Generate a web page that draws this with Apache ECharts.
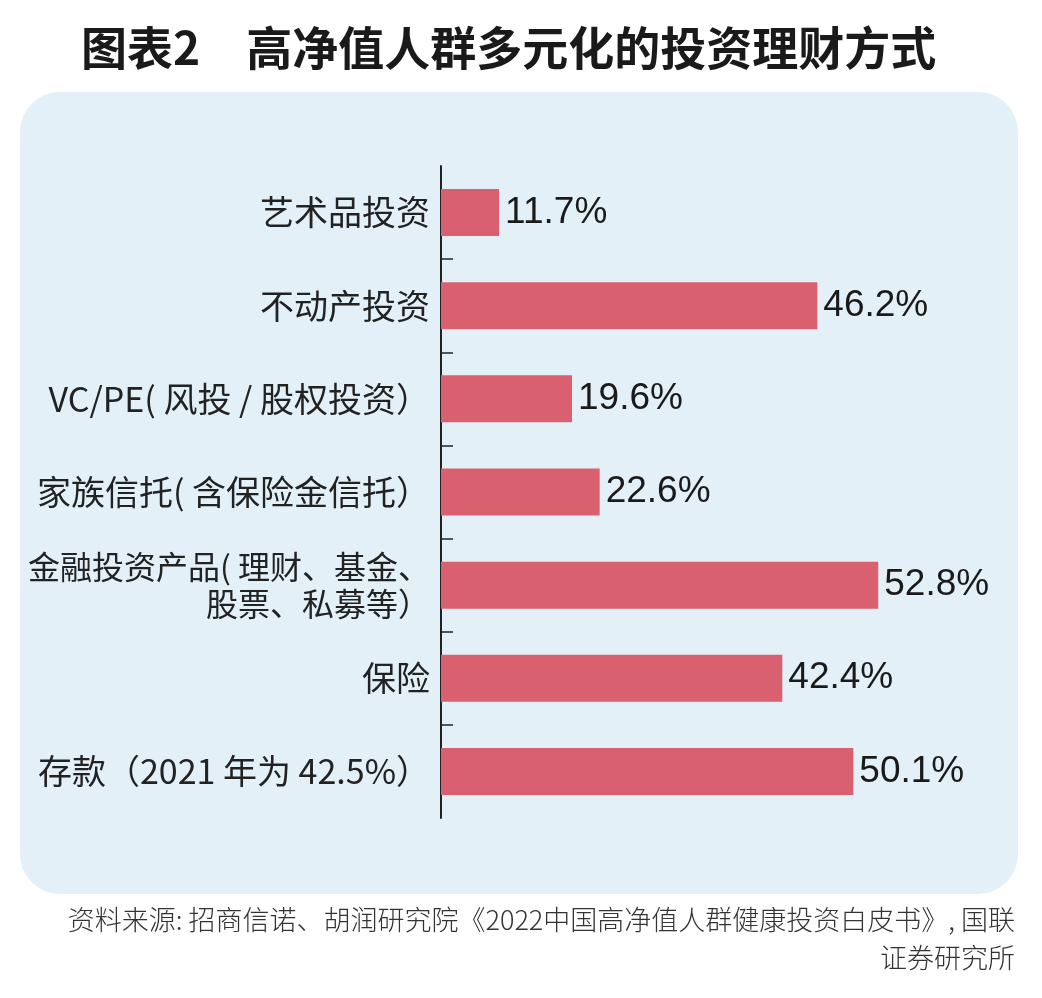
<!DOCTYPE html>
<html><head><meta charset="utf-8">
<script src="https://cdn.jsdelivr.net/npm/echarts@6/dist/echarts.min.js"></script>
<style>html,body{margin:0;padding:0;background:#fff}#c{width:1042px;height:998px}</style>
</head><body><div id="c"></div>
<script>
const categories = ['艺术品投资','不动产投资','VC/PE( 风投 / 股权投资）','家族信托( 含保险金信托）','金融投资产品( 理财、基金、\n股票、私募等）','保险','存款（2021 年为 42.5%）'];
const values = [11.7, 46.2, 19.6, 22.6, 52.8, 42.4, 50.1];
const titleText = '图表2　高净值人群多元化的投资理财方式';
const sourceLine1 = '资料来源: 招商信诺、胡润研究院《2022中国高净值人群健康投资白皮书》, 国联';
const sourceLine2 = '证券研究所';

const catData = categories.map((c, i) => i === 4 ? {value: c, textStyle: {fontSize: 32}} : c);

const chart = echarts.init(document.getElementById('c'));
chart.setOption({
  animation: false,
  backgroundColor: '#ffffff',
  title: {
    text: titleText, left: 76, top: 20,
    textStyle: {fontFamily: 'Noto Sans CJK SC', fontWeight: 'bold', fontSize: 46, color: '#1a1a1a'}
  },
  graphic: [
    {type: 'rect', z: -10, shape: {x: 20, y: 92, width: 998, height: 802, r: 40}, style: {fill: '#e3f0f8'}},
    {type: 'text', x: 1015, y: 920, style: {text: sourceLine1, align: 'right', verticalAlign: 'middle', fontFamily: 'Noto Sans CJK SC', fontSize: 27, fontWeight: 300, fill: '#333'}},
    {type: 'text', x: 1015, y: 958, style: {text: sourceLine2, align: 'right', verticalAlign: 'middle', fontFamily: 'Noto Sans CJK SC', fontSize: 27, fontWeight: 300, fill: '#333'}}
  ],
  grid: {left: 441, top: 166, width: 559, height: 652, containLabel: false},
  xAxis: {type: 'value', min: 5.4, max: 66, show: false},
  yAxis: [
    {type: 'category', inverse: true, data: catData,
     axisLine: {show: false}, axisTick: {show: false},
     axisLabel: {margin: 11, fontFamily: 'Noto Sans CJK SC', fontSize: 34, color: '#222', lineHeight: 37, align: 'right'}},
    {type: 'value', position: 'left', min: 0, max: 7, inverse: true,
     axisLine: {show: true, onZero: false, lineStyle: {color: '#222', width: 2}},
     axisTick: {show: true, inside: true, length: 12, lineStyle: {color: '#222', width: 1.5}, customValues: [1,2,3,4,5,6]},
     axisLabel: {show: false}, splitLine: {show: false}}
  ],
  series: [{
    type: 'bar', yAxisIndex: 0, data: values, barWidth: 47,
    itemStyle: {color: '#d9606f'},
    label: {show: true, position: 'right', distance: 6, formatter: p => p.value.toFixed(1) + '%',
      fontFamily: 'Liberation Sans', fontSize: 37, color: '#1a1a1a'}
  }]
});
</script></body></html>
